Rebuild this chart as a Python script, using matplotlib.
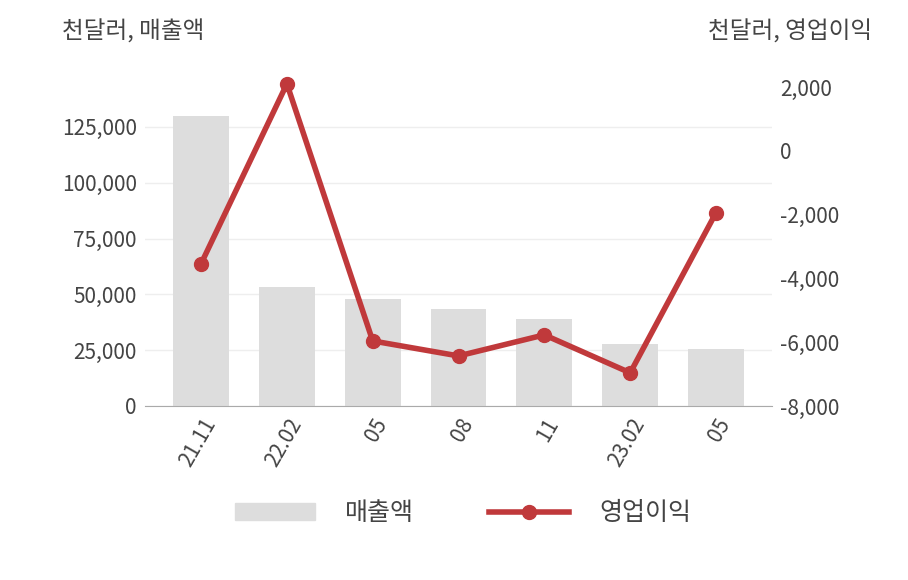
import numpy as np
import matplotlib.pyplot as plt
from matplotlib.lines import Line2D
from matplotlib.patches import Patch

plt.rcParams['font.family'] = ['Noto Sans CJK KR', 'DejaVu Sans']

# Data
periods = ["21.11", "22.02", "05", "08", "11", "23.02", "05"]
sales = [129900, 53300, 47900, 43500, 39000, 27800, 25500]
op_income = [-3540, 2100, -5960, -6430, -5770, -6960, -1940]

barColor = "#dddddd"
lineColor = "#c0393b"
textColor = "#444444"

fig = plt.figure(figsize=(9.08, 5.8), dpi=100)
ax = fig.add_axes([0.16, 0.30, 0.69, 0.562])
ax2 = ax.twinx()

x = np.arange(len(periods))
ax.bar(x, sales, width=0.65, color=barColor, zorder=2)
ax2.plot(x, op_income, color=lineColor, linewidth=4, marker="o",
         markersize=10, zorder=3, clip_on=False)

ax.set_ylim(0, 146000)
ax.set_yticks(np.arange(0, 125001, 25000))
ax.set_yticklabels([f"{v:,}" for v in range(0, 125001, 25000)])
ax.grid(True, axis="y", color="#eeeeee", linewidth=1, zorder=0)
ax.set_xlim(-0.65, 6.65)
ax.set_xticks(x)
ax.set_xticklabels(periods, rotation=60, ha="right", rotation_mode="anchor")

ax2.set_ylim(-8000, 2220)
ax2.set_yticks(np.arange(-8000, 2001, 2000))
ax2.set_yticklabels([f"{v:,}" for v in range(-8000, 2001, 2000)])

for a in (ax, ax2):
    for s in a.spines.values():
        s.set_visible(False)
    a.tick_params(colors=textColor, labelsize=15, length=0, pad=6)
ax.spines["bottom"].set_visible(True)
ax.spines["bottom"].set_color("#aaaaaa")

fig.text(0.068, 0.945, "천달러, 매출액", fontsize=17, color=textColor, va="center")
fig.text(0.96, 0.945, "천달러, 영업이익", fontsize=17, color=textColor,
         va="center", ha="right")

handles = [Patch(color=barColor),
           Line2D([0], [0], color=lineColor, linewidth=4, marker="o", markersize=10)]
fig.legend(handles, ["매출액", "영업이익"], loc="center", bbox_to_anchor=(0.51, 0.115),
           ncol=2, frameon=False, fontsize=18, labelcolor=textColor,
           handlelength=3.2, columnspacing=3, handletextpad=1.2)

fig.savefig("out.png", dpi=100)
